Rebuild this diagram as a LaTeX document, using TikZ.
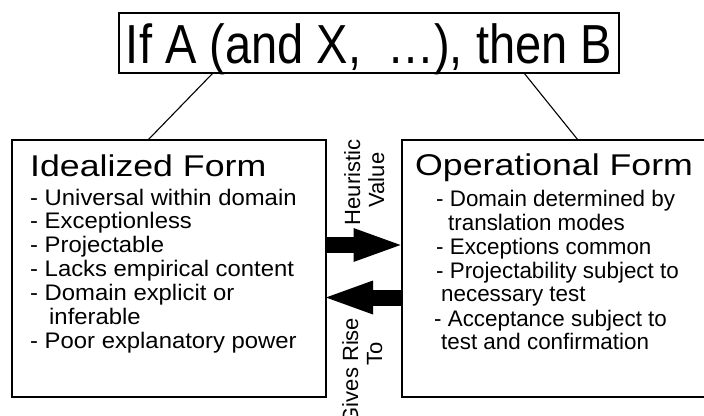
\documentclass[tikz,border=0pt]{standalone}
\usepackage{fontspec}
\setmainfont{Liberation Sans}
\newfontfamily\titlefont[FakeStretch=0.855]{Liberation Sans}
\newfontfamily\headfont[FakeStretch=1.19]{Liberation Sans}
\newfontfamily\leftfont[FakeStretch=1.06]{Liberation Sans}
\newfontfamily\rightfont[FakeStretch=0.995]{Liberation Sans}
\usetikzlibrary{arrows.meta,calc}
\begin{document}
\begin{tikzpicture}[x=1pt,y=-1pt,
  box/.style={draw,line width=1.5pt,rectangle,inner sep=0pt,outer sep=0pt},
  link/.style={line width=1.1pt},
  hd/.style={anchor=base west,inner sep=0pt,font=\headfont\fontsize{30}{30}\selectfont},
  lt/.style={anchor=base west,inner sep=0pt,font=\leftfont\fontsize{22.5}{24}\selectfont},
  rt/.style={anchor=base west,inner sep=0pt,font=\rightfont\fontsize{22.5}{24}\selectfont},
  rot/.style={anchor=base,rotate=90,inner sep=0pt,font=\fontsize{22}{24}\selectfont},
  fat/.style={line width=16pt,-{Triangle[length=47pt,width=34pt,line width=0pt]}}]
\useasboundingbox (0,0) rectangle (704,415);
% boxes
\node[box,minimum width=500pt,text height=50pt,text depth=10pt,
      font=\titlefont\fontsize{55}{60}\selectfont] (title) at (369,43)
      {If A (and X,\ \ …), then B};
\node[box,minimum width=314pt,minimum height=257pt] (left) at (169,268.5) {};
\node[box,minimum width=305pt,minimum height=257pt] (right) at (554.5,268.5) {};
% connecting lines
\draw[link] ([xshift=94pt]title.south west) -- ([xshift=136pt]left.north west);
\draw[link] ([xshift=405pt]title.south west) -- ([xshift=176pt]right.north west);
% headers
\node[hd] (lh) at (30,176) {Idealized Form};
\node[hd] (rh) at (415,175) {Operational Form};
% left items
\node[lt] (l1) at (30,205) {- Universal within domain};
\node[lt] (l2) at (30,228.5) {- Exceptionless};
\node[lt] (l3) at (30,252) {- Projectable};
\node[lt] (l4) at (30,276) {- Lacks empirical content};
\node[lt] (l5) at (30,300) {- Domain explicit or};
\node[lt] (l6) at (49,324) {inferable};
\node[lt] (l7) at (30,348) {- Poor explanatory power};
% right items
\node[rt] (r1) at (436,206) {- Domain determined by};
\node[rt] (r2) at (448,230) {translation modes};
\node[rt] (r3) at (436,254) {- Exceptions common};
\node[rt] (r4) at (436,278) {- Projectability subject to};
\node[rt] (r5) at (441,301) {necessary test};
\node[rt] (r6) at (434,326) {- Acceptance subject to};
\node[rt] (r7) at (441,349) {test and confirmation};
% arrows
\coordinate (a1s) at (left.east |- 0,245);
\coordinate (a1e) at (right.west |- 0,245);
\coordinate (a2s) at (right.west |- 0,297.5);
\coordinate (a2e) at (left.east |- 0,297.5);
\draw[fat,shorten >=1.5pt] (a1s) -- (a1e);
\draw[fat] (a2s) -- (a2e);
% arrow labels
\node[rot] (h1) at (360,182.5) {Heuristic};
\node[rot] (h2) at (384,180) {Value};
\node[rot] (g1) at (358,371) {Gives Rise};
\node[rot] (g2) at (382,354) {To};
\end{tikzpicture}
\end{document}
